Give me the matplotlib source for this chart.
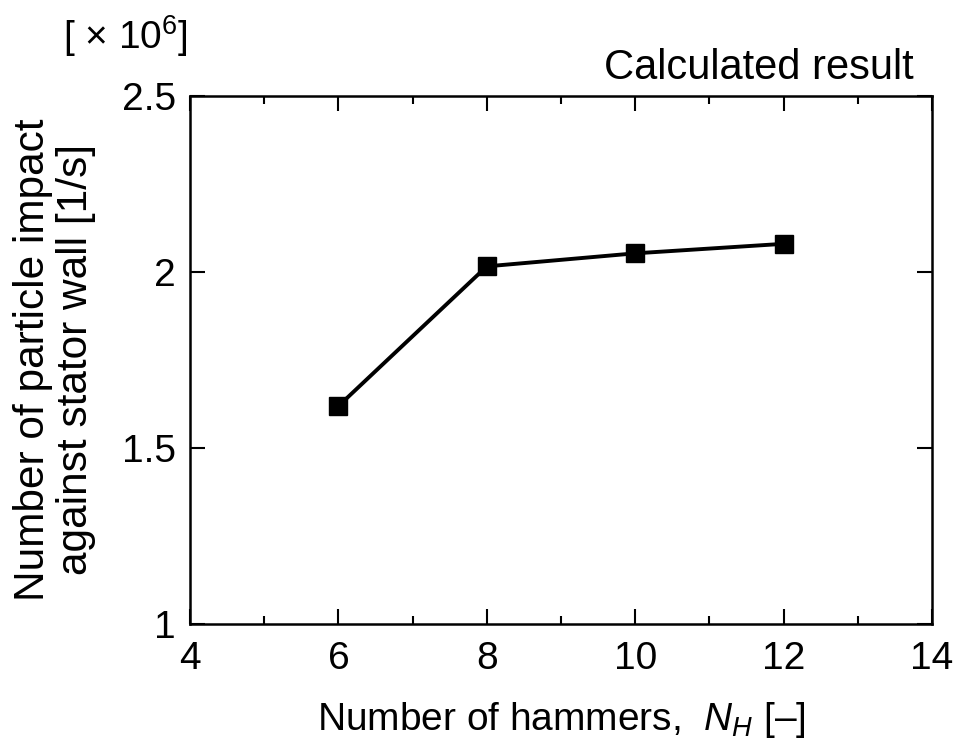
import numpy as np
import matplotlib.pyplot as plt

plt.rcParams['font.family'] = ['Liberation Sans', 'DejaVu Sans']
plt.rcParams['mathtext.fontset'] = 'custom'
plt.rcParams['mathtext.it'] = 'Liberation Sans:italic'
plt.rcParams['mathtext.rm'] = 'Liberation Sans'

# number of hammers vs. particle impacts on the stator wall (x10^6 1/s)
hammers = [6, 8, 10, 12]
impacts = [1.619, 2.016, 2.053, 2.080]

fig = plt.figure(figsize=(9.62, 7.43), dpi=100)
ax = fig.add_axes([0.1975, 0.1602, 0.7713, 0.7106])

ax.plot(hammers, impacts, color='black', lw=2.8, marker='s', ms=13.5,
        markerfacecolor='black', markeredgecolor='black')

ax.set_xlim(4, 14)
ax.set_ylim(1, 2.5)
ax.set_xticks([4, 6, 8, 10, 12, 14])
ax.set_xticks([5, 7, 9, 11, 13], minor=True)
ax.set_yticks([1, 1.5, 2, 2.5])
ax.set_yticklabels(['1', '1.5', '2', '2.5'])

ax.tick_params(which='both', direction='in', top=True, right=True,
               labelsize=28, width=1.5, pad=10)
ax.tick_params(axis='x', which='both', pad=12)
ax.tick_params(which='major', length=11)
ax.tick_params(which='minor', length=6)
for s in ax.spines.values():
    s.set_linewidth(1.8)

ax.set_xlabel('Number of hammers,  $N_H$ [–]', fontsize=28, labelpad=17)
ax.set_ylabel('Number of particle impact\nagainst stator wall [1/s]',
              fontsize=30.5, linespacing=1.1)
ax.yaxis.set_label_coords(-0.127, 0.5)

fig.text(0.066, 0.952, r'[ $\times$ 10$^6$]', fontsize=28, va='center', ha='left')
ax.text(0.975, 1.015, 'Calculated result', transform=ax.transAxes,
        fontsize=30, ha='right', va='bottom')

fig.savefig('out.png', dpi=100)
